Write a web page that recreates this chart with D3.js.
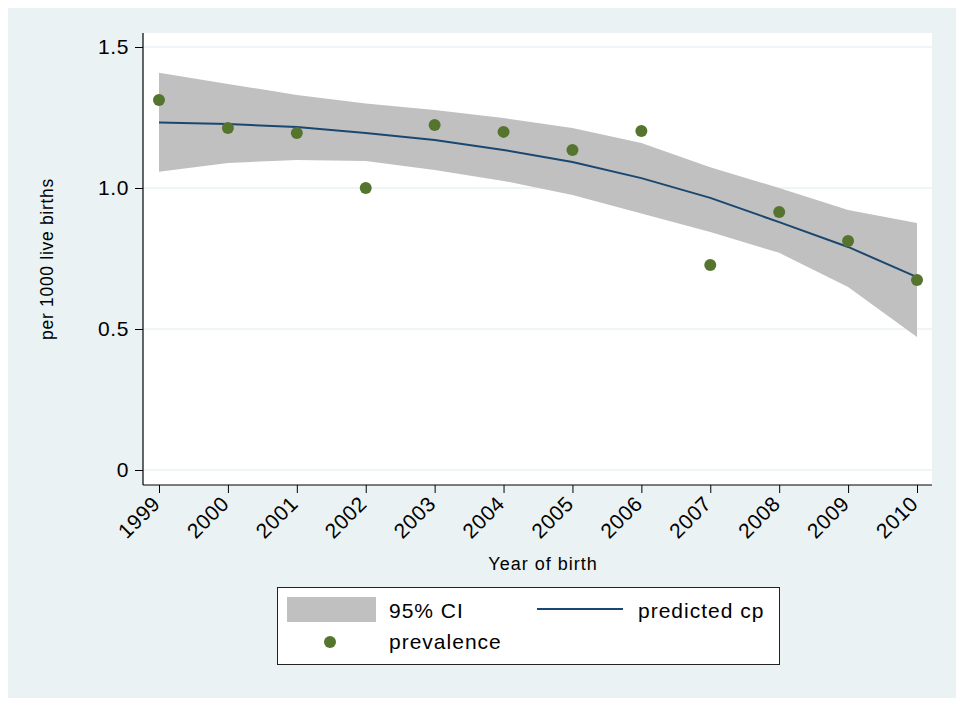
<!DOCTYPE html>
<html><head><meta charset="utf-8">
<script src="https://cdn.jsdelivr.net/npm/d3@7"></script>
<style>body{margin:0;background:#fff}svg{display:block;font-family:Arial,"Liberation Sans",sans-serif}</style>
</head><body>
<svg id="c" width="964" height="706"></svg>
<script>
const years = [1999,2000,2001,2002,2003,2004,2005,2006,2007,2008,2009,2010];
const prevalence = [1.312,1.213,1.195,1.0,1.223,1.199,1.135,1.202,0.727,0.915,0.812,0.674];
const predicted = [1.232,1.227,1.216,1.195,1.170,1.135,1.092,1.035,0.965,0.879,0.791,0.684];
const ciUpper = [1.409,1.369,1.330,1.300,1.277,1.248,1.213,1.160,1.074,1.000,0.922,0.876];
const ciLower = [1.058,1.089,1.099,1.096,1.064,1.025,0.975,0.910,0.844,0.770,0.649,0.472];
const yTicks = [0,0.5,1.0,1.5];
const yTickLabels = ["0","0.5","1.0","1.5"];

const FONT = "Arial, 'Liberation Sans', sans-serif";
const svg = d3.select("#c");
svg.append("rect").attr("x",8).attr("y",8).attr("width",948).attr("height",690).attr("fill","#EAF2F3");
const L=143,R=932,T=33,B=485;
svg.append("rect").attr("x",L).attr("y",T).attr("width",R-L).attr("height",B-T).attr("fill","#fff");

const x = d3.scaleLinear().domain([1999,2010]).range([159,917]);
const y = d3.scaleLinear().domain([0,1.5]).range([470,47]);

// gridlines
svg.append("g").selectAll("line").data(yTicks).join("line")
  .attr("x1",L).attr("x2",R).attr("y1",d=>y(d)).attr("y2",d=>y(d))
  .attr("stroke","#EAF2F3").attr("stroke-width",1.5);

const data = years.map((yr,i)=>({yr,p:prevalence[i],f:predicted[i],u:ciUpper[i],l:ciLower[i]}));
svg.append("path").datum(data)
  .attr("d",d3.area().x(d=>x(d.yr)).y0(d=>y(d.l)).y1(d=>y(d.u)))
  .attr("fill","#C0C0C0");
svg.append("path").datum(data)
  .attr("d",d3.line().x(d=>x(d.yr)).y(d=>y(d.f)))
  .attr("fill","none").attr("stroke","#1A476F").attr("stroke-width",2);
svg.append("g").selectAll("circle").data(data).join("circle")
  .attr("cx",d=>x(d.yr)).attr("cy",d=>y(d.p)).attr("r",6).attr("fill","#55752F");

// axes
const yAxis = d3.axisLeft(y).tickValues(yTicks).tickFormat((d,i)=>yTickLabels[i]).tickSize(8).tickPadding(6);
const gy = svg.append("g").attr("transform",`translate(${L},0)`).call(yAxis);
gy.select(".domain").remove();
gy.append("line").attr("x1",0).attr("x2",0).attr("y1",T).attr("y2",B).attr("stroke","#000").attr("stroke-width",1.2);
gy.selectAll(".tick line").attr("stroke","#000");
gy.selectAll(".tick text").attr("font-size",21).attr("letter-spacing",0.6).attr("fill","#000").attr("font-family",FONT);

const xAxis = d3.axisBottom(x).tickValues(years).tickFormat(d3.format("d")).tickSize(8);
const gx = svg.append("g").attr("transform",`translate(0,${B})`).call(xAxis);
gx.select(".domain").remove();
gx.append("line").attr("x1",L).attr("x2",R).attr("y1",0).attr("y2",0).attr("stroke","#000").attr("stroke-width",1.2);
gx.selectAll(".tick line").attr("stroke","#000");
gx.selectAll(".tick text").attr("font-size",21).attr("letter-spacing",0.6).attr("fill","#000")
  .attr("font-family",FONT)
  .attr("text-anchor","end").attr("dy",null).attr("y",0)
  .attr("transform","translate(2,20) rotate(-45)");

svg.append("text").attr("transform","translate(53,259) rotate(-90)").attr("text-anchor","middle")
  .attr("font-size",17.5).attr("letter-spacing",0.7).text("per 1000 live births");
svg.append("text").attr("x",543).attr("y",570).attr("text-anchor","middle")
  .attr("font-size",18).attr("letter-spacing",1).text("Year of birth");

// legend
const lg = svg.append("g");
lg.append("rect").attr("x",277.5).attr("y",587.5).attr("width",502).attr("height",77).attr("fill","#fff").attr("stroke","#222").attr("stroke-width",1);
lg.append("rect").attr("x",287).attr("y",597).attr("width",89).attr("height",25).attr("fill","#C0C0C0");
lg.append("text").attr("x",389).attr("y",618).attr("font-size",21).attr("letter-spacing",1).text("95% CI");
lg.append("line").attr("x1",537).attr("x2",623).attr("y1",609).attr("y2",609).attr("stroke","#1A476F").attr("stroke-width",2);
lg.append("text").attr("x",638).attr("y",618).attr("font-size",21).attr("letter-spacing",1).text("predicted cp");
lg.append("circle").attr("cx",330).attr("cy",642).attr("r",6).attr("fill","#55752F");
lg.append("text").attr("x",389).attr("y",649).attr("font-size",21).attr("letter-spacing",1).text("prevalence");
</script>
</body></html>
